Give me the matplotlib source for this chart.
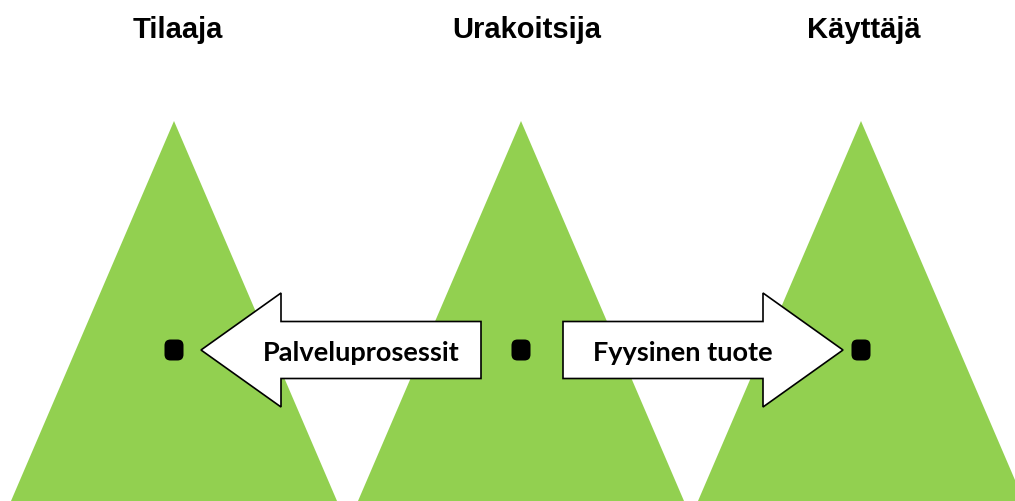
"""Three-party diagram: Tilaaja, Urakoitsija, Käyttäjä with process arrows."""

import matplotlib

matplotlib.use("Agg")

from matplotlib import pyplot as plt
from matplotlib.patches import FancyBboxPatch, Polygon

# Parties (title, apex x of the triangle)
parties = ["Tilaaja", "Urakoitsija", "Käyttäjä"]
party_x = [174, 521, 861]
title_x = [178, 527, 864]

# Arrows: label, tail x, tip x
arrow_labels = ["Palveluprosessit", "Fyysinen tuote"]
arrow_tail_x = [481, 563]
arrow_tip_x = [201, 843]
arrow_label_x = [361, 683]

GREEN = "#92D050"
W, H = 1015, 501
APEX_Y = 121
BASE_Y = 501
BASE_HALF = 163
MID_Y = 350
HEAD_LEN = 80
HEAD_HALF = 57
SHAFT_HALF = 28.5


def arrow_points(tail: float, tip: float) -> list[tuple[float, float]]:
    direction = 1 if tip > tail else -1
    back = tip - direction * HEAD_LEN
    return [
        (tail, MID_Y - SHAFT_HALF),
        (back, MID_Y - SHAFT_HALF),
        (back, MID_Y - HEAD_HALF),
        (tip, MID_Y),
        (back, MID_Y + HEAD_HALF),
        (back, MID_Y + SHAFT_HALF),
        (tail, MID_Y + SHAFT_HALF),
    ]


def main() -> None:
    fig = plt.figure(figsize=(W / 100, H / 100), dpi=100)
    ax = fig.add_axes([0, 0, 1, 1])
    ax.set_xlim(0, W)
    ax.set_ylim(H, 0)
    ax.axis("off")

    for name, x, tx in zip(parties, party_x, title_x):
        ax.add_patch(
            Polygon(
                [(x, APEX_Y), (x + BASE_HALF, BASE_Y), (x - BASE_HALF, BASE_Y)],
                closed=True,
                facecolor=GREEN,
                edgecolor="none",
            )
        )
        ax.text(
            tx, 38, name, ha="center", va="baseline",
            fontsize=21, fontweight="bold", family="Liberation Sans",
        )

    for label, tail, tip, lx in zip(arrow_labels, arrow_tail_x, arrow_tip_x, arrow_label_x):
        ax.add_patch(
            Polygon(arrow_points(tail, tip), closed=True, facecolor="white",
                    edgecolor="black", linewidth=1.2, zorder=3)
        )
        ax.text(
            lx, 361, label, ha="center", va="baseline", zorder=4,
            fontsize=19.5, fontweight="bold", family="Lato",
        )

    # bullet dots
    for x in party_x:
        ax.add_patch(
            FancyBboxPatch(
                (x - 7.5, MID_Y - 8.5), 15, 17,
                boxstyle="round,pad=2,rounding_size=6",
                facecolor="black", edgecolor="none", zorder=5,
            )
        )

    fig.savefig("out.png", dpi=100)
    plt.close(fig)


if __name__ == "__main__":
    main()
